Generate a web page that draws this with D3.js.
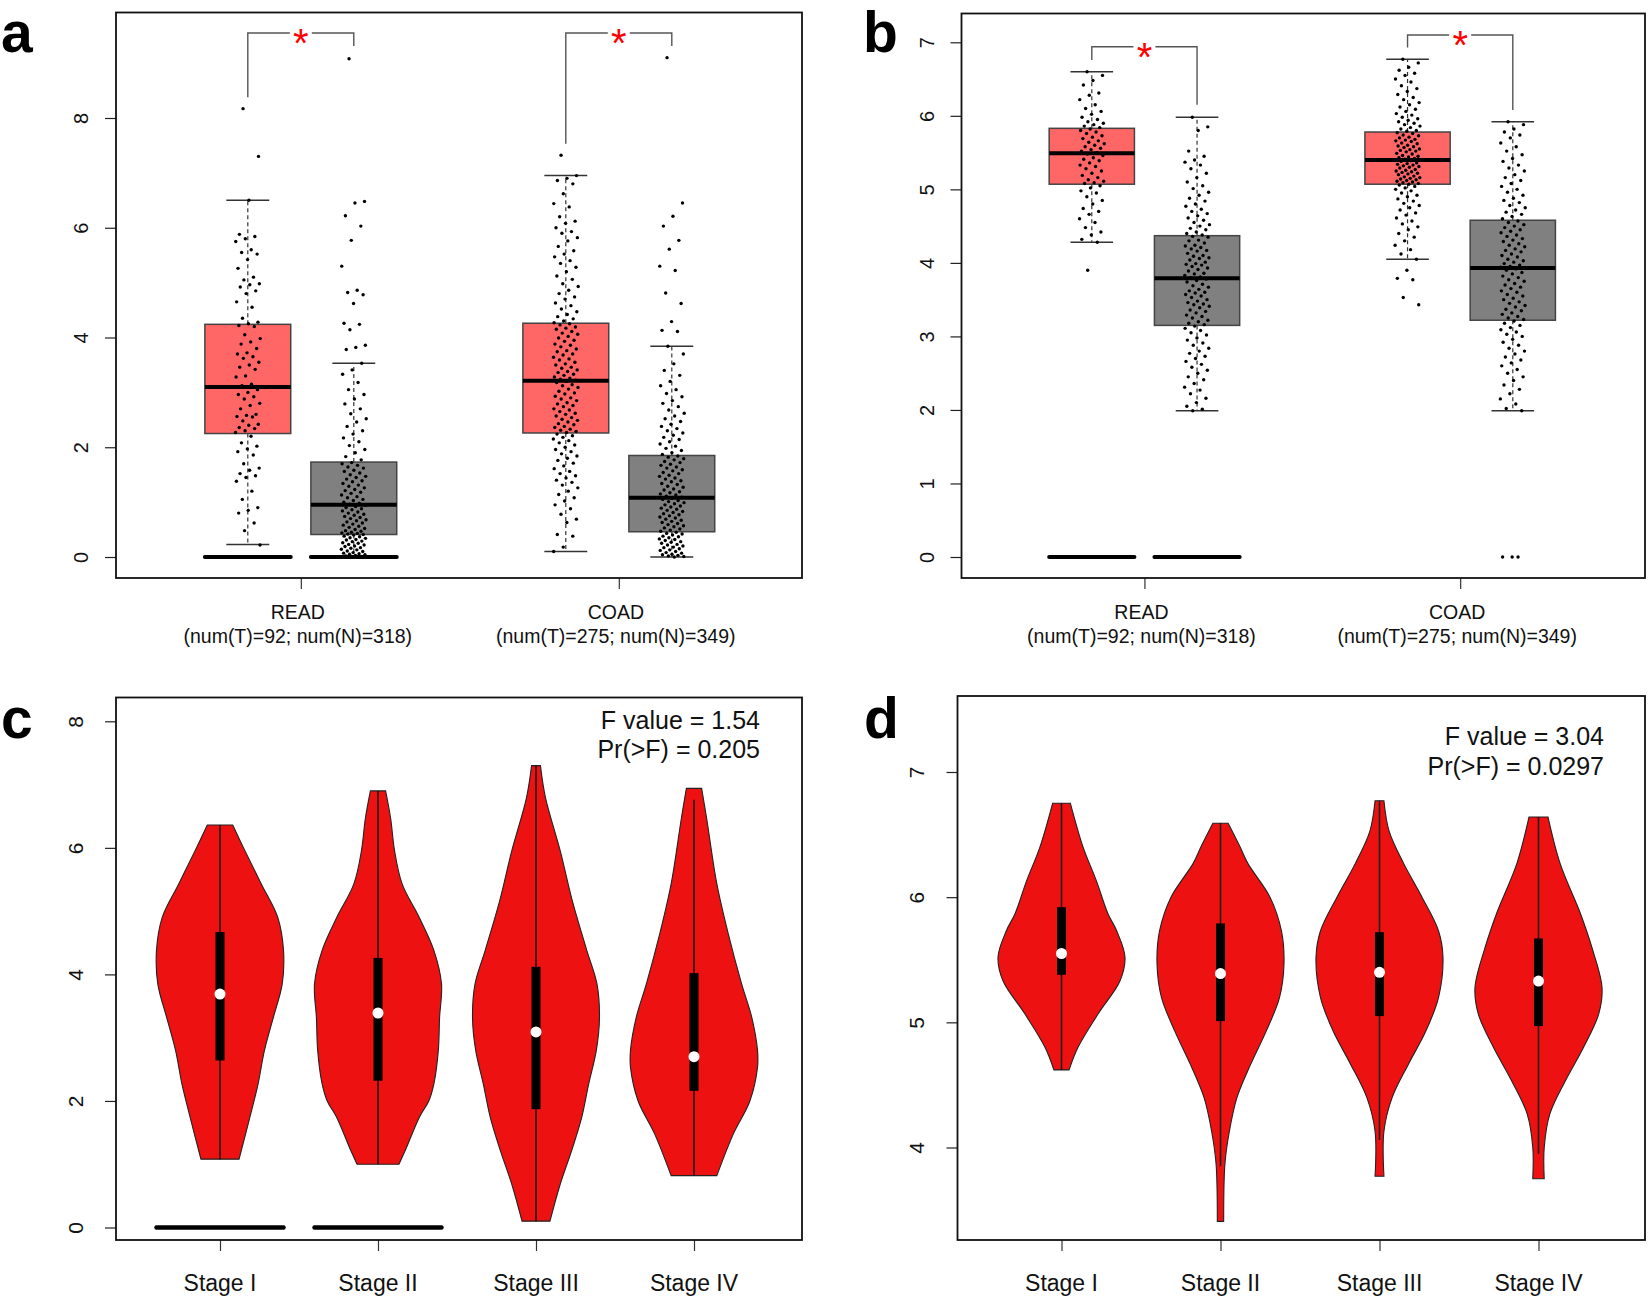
<!DOCTYPE html>
<html><head><meta charset="utf-8">
<script src="https://cdn.jsdelivr.net/npm/d3@7"></script>
<style>body{margin:0;background:#fff}svg{display:block}</style>
</head><body>
<svg id="fig" width="1651" height="1301"></svg>
<script>
// ================= DATA =================
const boxCategories = ["READ", "COAD"];
const boxCategoryCounts = ["(num(T)=92; num(N)=318)", "(num(T)=275; num(N)=349)"];
const stageCategories = ["Stage I", "Stage II", "Stage III", "Stage IV"];

// box stats: [lowerWhisker, Q1, median, Q3, upperWhisker]  (READ, COAD)
const aTumorStats  = [[0.23, 2.25, 3.10, 4.24, 6.50], [0.10, 2.26, 3.21, 4.26, 6.95]];
const aNormalStats = [[0.00, 0.41, 0.95, 1.73, 3.53], [0.00, 0.46, 1.08, 1.85, 3.84]];
const bTumorStats  = [[4.28, 5.07, 5.49, 5.83, 6.60], [4.05, 5.07, 5.40, 5.78, 6.77]];
const bNormalStats = [[1.99, 3.15, 3.79, 4.37, 5.98], [1.99, 3.22, 3.93, 4.58, 5.92]];
// zero-expression bars [tumor, normal] per category
const aZeroBars = [[true, true], [false, false]];
const bZeroBars = [[true, true], [false, false]];
// significance brackets: [tumor end, top, normal end]
const aBrackets = [[8.38, 9.55, 9.31], [7.53, 9.55, 9.31]];
const bBrackets = [[6.76, 6.94, 6.15], [6.93, 7.10, 6.08]];

const aReadTumorPts = [8.17,7.30,6.50,5.88,5.84,5.80,5.75,5.60,5.55,5.52,5.42,5.26,5.10,5.05,4.98,4.96,4.92,4.85,4.80,4.65,4.55,4.35,4.28,4.25,4.22,4.20,4.05,3.98,3.92,3.88,3.80,3.72,3.70,3.65,3.62,3.55,3.50,3.46,3.42,3.30,3.28,3.15,3.12,3.05,3.00,2.96,2.92,2.88,2.80,2.76,2.70,2.60,2.58,2.56,2.55,2.48,2.42,2.40,2.36,2.34,2.30,2.27,2.20,2.08,2.02,1.97,1.92,1.86,1.70,1.62,1.58,1.52,1.48,1.45,1.38,1.20,1.05,0.90,0.85,0.80,0.62,0.48,0.22];
const aReadNormalPts = [9.08,6.48,6.45,6.22,6.03,5.77,5.30,4.86,4.82,4.78,4.62,4.26,4.24,4.14,3.86,3.82,3.78,
3.53,3.41,3.33,3.18,3.05,2.96,2.88,2.79,2.70,2.61,2.52,2.46,2.38,2.30,2.24,2.17,2.10,2.03,1.96,1.90,1.83,1.77,
1.72,1.70,1.67,1.64,1.62,1.58,1.56,1.53,1.50,1.47,1.45,1.42,1.39,1.37,1.34,1.31,1.29,1.26,1.23,1.21,1.18,1.16,1.13,1.10,1.08,1.05,1.03,1.00,0.98,0.96,
0.94,0.92,0.90,0.88,0.86,0.84,0.82,0.80,0.78,0.76,0.74,0.72,0.70,0.68,0.66,0.64,0.62,0.60,0.58,0.56,0.54,0.52,0.50,0.48,0.47,0.45,0.44,0.43,0.42,0.41,
0.40,0.38,0.37,0.35,0.34,0.32,0.31,0.29,0.28,0.26,0.25,0.23,0.22,0.20,0.19,0.17,0.16,0.14,0.13,0.11,0.10,0.08,0.07,0.06,0.05,0.04,0.03,0.02,0.01,0.00];
const aCoadTumorPts = [7.32,
6.95,6.90,6.86,6.80,6.62,6.44,6.38,6.20,6.12,6.08,6.00,5.93,5.90,5.82,5.76,5.66,5.58,5.52,5.47,5.40,5.35,5.28,5.20,5.12,5.06,4.98,4.93,4.86,4.80,4.74,4.70,4.63,4.58,4.52,4.47,4.42,4.38,4.34,4.30,4.27,
4.25,4.23,4.19,4.17,4.15,4.11,4.08,4.06,4.02,3.99,3.95,3.93,3.88,3.86,3.83,3.79,3.76,3.74,3.70,3.68,3.64,3.61,3.59,3.55,3.52,3.50,3.46,3.44,3.41,3.38,3.36,3.33,3.31,3.28,3.26,3.24,3.22,
3.20,3.18,3.14,3.12,3.09,3.06,3.02,2.99,2.97,2.93,2.90,2.88,2.85,2.81,2.79,2.76,2.74,2.70,2.68,2.65,2.62,2.60,2.57,2.54,2.51,2.49,2.46,2.43,2.41,2.38,2.36,2.33,2.31,2.29,2.27,
2.24,2.21,2.18,2.15,2.12,2.08,2.04,2.00,1.96,1.92,1.88,1.84,1.80,1.76,1.71,1.66,1.61,1.56,1.52,1.48,1.44,1.40,1.36,1.31,1.26,1.20,1.14,1.08,1.02,0.95,0.88,0.78,0.69,0.63,0.41,0.38,0.18,0.10];
const aCoadNormalPts = [9.10,6.45,6.21,6.03,5.77,5.61,5.30,5.22,4.81,4.62,4.29,4.13,4.11,
3.84,3.70,3.52,3.40,3.31,3.20,3.12,3.05,2.98,2.92,2.85,2.80,2.74,2.68,2.62,2.57,2.52,2.47,2.42,2.38,2.34,2.30,2.26,2.22,2.18,2.14,2.10,2.06,2.02,1.98,1.94,1.90,1.87,
1.84,1.82,1.79,1.77,1.74,1.72,1.69,1.67,1.64,1.62,1.59,1.57,1.54,1.52,1.49,1.47,1.44,1.42,1.39,1.37,1.34,1.32,1.29,1.27,1.24,1.22,1.19,1.17,1.15,1.13,1.11,1.09,
1.07,1.05,1.03,1.01,0.99,0.97,0.95,0.93,0.91,0.89,0.87,0.85,0.83,0.81,0.79,0.77,0.75,0.73,0.71,0.69,0.67,0.65,0.63,0.61,0.59,0.57,0.55,0.53,0.51,0.49,0.47,
0.45,0.43,0.42,0.40,0.38,0.37,0.35,0.33,0.32,0.30,0.28,0.27,0.25,0.23,0.22,0.20,0.18,0.17,0.15,0.13,0.12,0.10,0.08,0.07,0.05,0.04,0.03,0.02,0.01,0.00];

const bReadTumorPts = [6.60,6.55,6.48,6.42,6.31,6.28,6.22,6.15,6.10,6.06,6.02,5.98,5.95,5.92,5.90,5.88,5.86,5.84,
5.82,5.80,5.78,5.76,5.73,5.71,5.69,5.66,5.64,5.62,5.60,5.58,5.56,5.54,5.52,5.50,
5.48,5.46,5.43,5.41,5.39,5.36,5.33,5.31,5.28,5.25,5.22,5.19,5.16,5.13,5.11,5.09,5.08,
5.05,5.02,4.98,4.95,4.90,4.85,4.80,4.74,4.70,4.66,4.60,4.55,4.48,4.42,4.38,4.32,4.28,3.90];
const bReadNormalPts = [5.98,5.85,5.80,5.52,5.45,5.40,5.37,5.33,5.28,5.22,5.16,5.10,5.05,5.01,4.96,4.92,4.88,4.84,4.80,4.77,4.73,4.70,4.67,4.64,4.61,4.58,4.55,4.52,4.50,4.47,4.45,4.42,4.40,4.38,
4.36,4.35,4.31,4.30,4.27,4.24,4.23,4.21,4.19,4.17,4.16,4.13,4.10,4.09,4.07,4.06,4.04,4.01,3.99,3.98,3.97,3.95,3.93,3.91,3.89,3.86,3.85,3.83,3.81,3.80,
3.78,3.76,3.74,3.71,3.69,3.67,3.64,3.62,3.60,3.59,3.57,3.55,3.53,3.50,3.48,3.46,3.44,3.43,3.41,3.39,3.36,3.34,3.32,3.29,3.27,3.25,3.22,3.20,3.18,3.16,
3.14,3.11,3.08,3.05,3.02,2.98,2.95,2.91,2.88,2.84,2.80,2.77,2.73,2.70,2.66,2.62,2.58,2.54,2.50,2.45,2.41,2.36,2.31,2.27,2.22,2.16,2.10,2.05,2.01,1.99];
const bCoadTumorPts = [6.77,6.72,6.66,6.62,6.58,6.55,6.50,6.46,6.41,6.37,6.33,6.29,6.25,6.22,6.18,6.15,6.12,6.09,6.06,6.03,6.01,5.98,5.96,5.94,5.92,5.90,5.88,5.86,5.84,5.82,5.80,5.79,
5.77,5.76,5.74,5.73,5.71,5.70,5.68,5.67,5.66,5.65,5.63,5.62,5.60,5.59,5.58,5.57,5.55,5.54,5.53,5.52,5.51,5.49,5.48,5.46,5.45,5.44,5.43,5.42,5.41,5.40,
5.39,5.38,5.36,5.35,5.34,5.33,5.32,5.31,5.30,5.29,5.27,5.26,5.25,5.24,5.23,5.22,5.21,5.20,5.18,5.17,5.16,5.15,5.14,5.13,5.12,5.11,5.10,5.09,5.08,5.07,
5.06,5.04,5.02,5.00,4.98,4.95,4.92,4.90,4.87,4.84,4.81,4.78,4.75,4.72,4.68,4.65,4.61,4.57,4.53,4.49,4.45,4.40,4.35,4.30,4.24,4.18,4.12,4.05,
3.90,3.79,3.77,3.53,3.43];
const bCoadNormalPts = [5.92,5.88,5.82,5.78,5.74,5.70,5.63,5.58,5.52,5.47,5.42,5.38,5.33,5.29,5.25,5.20,5.16,5.12,5.08,5.04,5.00,4.96,4.92,4.88,4.85,4.82,4.78,4.75,4.72,4.69,4.66,4.63,4.60,
4.57,4.55,4.52,4.50,4.48,4.45,4.43,4.41,4.38,4.36,4.33,4.31,4.29,4.26,4.24,4.22,4.19,4.17,4.15,4.12,4.10,4.08,4.05,4.03,4.01,3.99,3.97,3.95,3.94,
3.92,3.90,3.87,3.85,3.82,3.80,3.77,3.75,3.72,3.70,3.67,3.65,3.62,3.60,3.57,3.55,3.52,3.50,3.47,3.45,3.42,3.40,3.37,3.35,3.32,3.30,3.27,3.25,3.23,
3.21,3.18,3.15,3.12,3.09,3.06,3.03,3.00,2.96,2.92,2.88,2.84,2.80,2.76,2.72,2.68,2.64,2.60,2.55,2.50,2.45,2.40,2.34,2.28,2.22,2.15,2.08,2.02,1.99,
0.00,0.00,0.00];

// violin profiles: [value, relative density]; stats: [whiskerLow, Q1, median, Q3, whiskerHigh]
const cStage1Profile = [[6.36,0.20],[5.96,0.39],[5.43,0.65],[4.90,0.91],[4.38,1.00],[3.85,0.98],[3.32,0.84],[2.80,0.70],[2.27,0.60],[1.74,0.47],[1.08,0.30]];
const cStage2Profile = [[6.90,0.12],[6.46,0.20],[5.96,0.26],[5.43,0.38],[4.90,0.65],[4.38,0.88],[3.85,1.00],[3.32,0.97],[2.80,0.95],[2.27,0.88],[2.00,0.80],[1.74,0.65],[1.22,0.43],[1.00,0.33]];
const cStage3Profile = [[7.30,0.07],[6.79,0.15],[5.96,0.38],[5.17,0.57],[4.38,0.80],[3.85,0.96],[3.32,1.00],[2.80,0.95],[2.27,0.83],[1.74,0.72],[1.21,0.56],[0.68,0.38],[0.10,0.22]];
const cStage4Profile = [[6.94,0.12],[6.46,0.20],[5.43,0.36],[4.64,0.54],[3.85,0.75],[3.32,0.91],[2.80,1.00],[2.53,1.00],[2.00,0.88],[1.48,0.62],[0.82,0.36]];
const cStageStats = [[1.08,2.64,3.69,4.67,6.36],[1.00,2.32,3.39,4.26,6.90],[0.10,1.87,3.09,4.12,7.30],[0.82,2.16,2.70,4.02,6.76]];
const cZeroBars = [true, true, false, false];
const cAnova = ["F value = 1.54", "Pr(>F) = 0.205"];

const dStage1Profile = [[6.75,0.14],[6.40,0.34],[6.13,0.55],[5.87,0.73],[5.73,0.87],[5.52,1.00],[5.33,0.92],[5.07,0.58],[4.80,0.26],[4.62,0.12]];
const dStage2Profile = [[6.59,0.12],[6.41,0.30],[6.27,0.43],[6.00,0.78],[5.73,0.96],[5.47,1.00],[5.20,0.93],[4.93,0.72],[4.67,0.48],[4.40,0.26],[4.13,0.14],[3.87,0.07],[3.41,0.05]];
const dStage3Profile = [[6.77,0.07],[6.53,0.15],[6.27,0.38],[6.00,0.67],[5.73,0.93],[5.52,1.00],[5.20,0.93],[4.93,0.73],[4.67,0.46],[4.40,0.20],[4.13,0.07],[3.77,0.07]];
const dStage4Profile = [[6.64,0.15],[6.27,0.34],[5.87,0.66],[5.60,0.84],[5.28,1.00],[5.07,0.95],[4.80,0.71],[4.53,0.42],[4.27,0.18],[4.00,0.09],[3.75,0.09]];
const dStageStats = [[4.62,5.38,5.55,5.92,6.75],[3.85,5.01,5.39,5.79,6.59],[4.06,5.05,5.40,5.72,6.77],[3.95,4.97,5.33,5.67,6.64]];
const dZeroBars = [false, false, false, false];
const dAnova = ["F value = 3.04", "Pr(>F) = 0.0297"];

// ================= DRAWING =================
const FONT = '"Liberation Sans", Arial, Helvetica, sans-serif';
const TUMOR = "#ff6666", NORMAL = "#808080", VIOLIN = "#ee1111";
const svg = d3.select("#fig");

function drawFrame(g, f) {
  g.append("rect").attr("x", f.x0).attr("y", f.y0).attr("width", f.x1 - f.x0).attr("height", f.y1 - f.y0)
    .attr("fill", "none").attr("stroke", "#111").attr("stroke-width", 1.8);
}
function drawYAxis(g, f, y, ticks, offset, fs) {
  const ax = g.append("g").attr("transform", `translate(${f.x0},0)`)
    .call(d3.axisLeft(y).tickValues(ticks).tickSize(11).tickFormat(d3.format("d")));
  ax.select(".domain").remove();
  ax.selectAll(".tick line").attr("stroke", "#222").attr("stroke-width", 1.2);
  ax.selectAll(".tick text").attr("x", 0).attr("dy", "0.36em")
    .attr("transform", `translate(${-offset},0) rotate(-90)`)
    .attr("text-anchor", "middle").attr("font-size", fs).attr("font-family", FONT).attr("fill", "#111");
}
function drawXAxis(g, f, x, vals) {
  const ax = g.append("g").attr("transform", `translate(0,${f.y1})`)
    .call(d3.axisBottom(x).tickValues(vals).tickSize(11).tickFormat(""));
  ax.select(".domain").remove();
  ax.selectAll(".tick line").attr("stroke", "#333").attr("stroke-width", 1.2);
}
function panelLetter(t, x, y) {
  svg.append("text").attr("x", x).attr("y", y).text(t).attr("font-family", FONT)
    .attr("font-weight", "bold").attr("font-size", 57).attr("fill", "#000");
}
const jitter = i => ((i * 0.6180339887 + 0.31) % 1) - 0.5;

function boxPanel(cfg) {
  const g = svg.append("g");
  const f = cfg.frame;
  const y = d3.scaleLinear().domain(cfg.yDomain).range(cfg.yRange);
  const x = d3.scaleLinear().domain([1, 5]).range(cfg.xRange);
  const bw = x(1 + 0.81) - x(1);
  drawYAxis(g, f, y, cfg.yTicks, 35, 20);
  drawXAxis(g, f, x, [1.5, 4.5]);
  boxCategories.forEach((c, i) => {
    const cx = x(1.5 + 3 * i) - 3;
    g.append("text").attr("x", cx).attr("y", 619).attr("text-anchor", "middle").attr("font-size", 19.5)
      .attr("font-family", FONT).attr("fill", "#111").text(c);
    g.append("text").attr("x", cx).attr("y", 643).attr("text-anchor", "middle").attr("font-size", 19.5)
      .attr("font-family", FONT).attr("fill", "#111").text(boxCategoryCounts[i]);
  });
  cfg.groups.forEach(gr => {
    const cx = x(gr.pos);
    const [lo, q1, md, q3, hi] = gr.stats;
    const wl = (a, b) => g.append("line").attr("x1", cx).attr("x2", cx).attr("y1", y(a)).attr("y2", y(b))
      .attr("stroke", "#333").attr("stroke-width", 1.2).attr("stroke-dasharray", "4,3");
    wl(q3, hi); wl(q1, lo);
    [lo, hi].forEach(v => g.append("line").attr("x1", cx - bw / 4).attr("x2", cx + bw / 4)
      .attr("y1", y(v)).attr("y2", y(v)).attr("stroke", "#333").attr("stroke-width", 1.5));
    g.append("rect").attr("x", cx - bw / 2).attr("width", bw).attr("y", y(q3)).attr("height", y(q1) - y(q3))
      .attr("fill", gr.fill).attr("stroke", "#444").attr("stroke-width", 1.5);
    g.append("line").attr("x1", cx - bw / 2).attr("x2", cx + bw / 2).attr("y1", y(md)).attr("y2", y(md))
      .attr("stroke", "#000").attr("stroke-width", 4);
  });
  cfg.groups.forEach(gr => {
    const cx = x(gr.pos);
    g.append("g").selectAll("circle").data(gr.pts).join("circle")
      .attr("cx", (d, i) => cx + jitter(i) * 25).attr("cy", d => y(d)).attr("r", 1.7).attr("fill", "#000");
    if (gr.zero) g.append("line").attr("x1", cx - bw / 2).attr("x2", cx + bw / 2).attr("y1", y(0)).attr("y2", y(0))
      .attr("stroke", "#000").attr("stroke-width", 4).attr("stroke-linecap", "round");
  });
  cfg.brackets.forEach((br, i) => {
    const xl = x(1 + 3 * i), xr = x(2 + 3 * i), xm = x(1.5 + 3 * i), yt = y(br[1]);
    const st = s => s.attr("stroke", "#555").attr("stroke-width", 1.4).attr("fill", "none");
    st(g.append("path").attr("d", `M${xl},${y(br[0])}V${yt}H${xm - 11}`));
    st(g.append("path").attr("d", `M${xm + 11},${yt}H${xr}V${y(br[2])}`));
    g.append("text").attr("x", xm).attr("y", yt + 24).attr("text-anchor", "middle").attr("font-size", 40)
      .attr("font-family", FONT).attr("fill", "#ff0000").text("*");
  });
  drawFrame(g, f);
}

function violinPanel(cfg) {
  const g = svg.append("g");
  const f = cfg.frame;
  const y = d3.scaleLinear().domain(cfg.yDomain).range(cfg.yRange);
  const x = d3.scaleLinear().domain([1, 4]).range(cfg.xRange);
  const hw = 63.5;
  drawYAxis(g, f, y, cfg.yTicks, 41, 21);
  drawXAxis(g, f, x, [1, 2, 3, 4]);
  stageCategories.forEach((s, i) => g.append("text").attr("x", x(i + 1)).attr("y", 1291).attr("text-anchor", "middle")
    .attr("font-size", 23).attr("font-family", FONT).attr("fill", "#111").text(s));
  cfg.profiles.forEach((p, i) => {
    const cx = x(i + 1);
    const area = d3.area().y(d => y(d[0])).x0(d => cx - hw * d[1]).x1(d => cx + hw * d[1])
      .curve(d3.curveCatmullRom.alpha(0.5));
    g.append("path").attr("d", area(p)).attr("fill", VIOLIN).attr("stroke", "#222").attr("stroke-width", 1.1);
    const [lo, q1, md, q3, hi] = cfg.stats[i];
    g.append("line").attr("x1", cx).attr("x2", cx).attr("y1", y(lo)).attr("y2", y(hi)).attr("stroke", "#111").attr("stroke-width", 1.5);
    g.append("rect").attr("x", cx - 4.5).attr("width", 9).attr("y", y(q3)).attr("height", y(q1) - y(q3)).attr("fill", "#000");
    g.append("circle").attr("cx", cx).attr("cy", y(md)).attr("r", 5.5).attr("fill", "#fff");
    if (cfg.zero[i]) g.append("line").attr("x1", cx - hw).attr("x2", cx + hw).attr("y1", y(0)).attr("y2", y(0))
      .attr("stroke", "#000").attr("stroke-width", 4.5).attr("stroke-linecap", "round");
  });
  cfg.anova.forEach((t, i) => g.append("text").attr("x", cfg.anovaX).attr("y", cfg.anovaY[i]).attr("text-anchor", "end")
    .attr("font-size", 25).attr("font-family", FONT).attr("fill", "#111").text(t));
  drawFrame(g, f);
}

boxPanel({
  frame: {x0: 116, x1: 802, y0: 12.5, y1: 578}, yDomain: [0, 8], yRange: [557, 118], yTicks: [0, 2, 4, 6, 8],
  xRange: [247.8, 671.8], brackets: aBrackets,
  groups: [
    {pos: 1, stats: aTumorStats[0], pts: aReadTumorPts, fill: TUMOR, zero: aZeroBars[0][0]},
    {pos: 2, stats: aNormalStats[0], pts: aReadNormalPts, fill: NORMAL, zero: aZeroBars[0][1]},
    {pos: 4, stats: aTumorStats[1], pts: aCoadTumorPts, fill: TUMOR, zero: aZeroBars[1][0]},
    {pos: 5, stats: aNormalStats[1], pts: aCoadNormalPts, fill: NORMAL, zero: aZeroBars[1][1]}]
});
boxPanel({
  frame: {x0: 961.5, x1: 1645, y0: 13.5, y1: 578}, yDomain: [0, 7], yRange: [557, 42.3], yTicks: [0, 1, 2, 3, 4, 5, 6, 7],
  xRange: [1091.8, 1512.8], brackets: bBrackets,
  groups: [
    {pos: 1, stats: bTumorStats[0], pts: bReadTumorPts, fill: TUMOR, zero: bZeroBars[0][0]},
    {pos: 2, stats: bNormalStats[0], pts: bReadNormalPts, fill: NORMAL, zero: bZeroBars[0][1]},
    {pos: 4, stats: bTumorStats[1], pts: bCoadTumorPts, fill: TUMOR, zero: bZeroBars[1][0]},
    {pos: 5, stats: bNormalStats[1], pts: bCoadNormalPts, fill: NORMAL, zero: bZeroBars[1][1]}]
});
violinPanel({
  frame: {x0: 116, x1: 802, y0: 697.5, y1: 1240}, yDomain: [0, 8], yRange: [1227.5, 721.3], yTicks: [0, 2, 4, 6, 8],
  xRange: [220, 694], profiles: [cStage1Profile, cStage2Profile, cStage3Profile, cStage4Profile],
  stats: cStageStats, zero: cZeroBars, anova: cAnova, anovaX: 760, anovaY: [729, 758]
});
violinPanel({
  frame: {x0: 957.5, x1: 1645, y0: 696, y1: 1240}, yDomain: [4, 7], yRange: [1147.5, 772], yTicks: [4, 5, 6, 7],
  xRange: [1061.5, 1538.5], profiles: [dStage1Profile, dStage2Profile, dStage3Profile, dStage4Profile],
  stats: dStageStats, zero: dZeroBars, anova: dAnova, anovaX: 1604, anovaY: [745, 775]
});
panelLetter("a", 1, 52);
panelLetter("b", 863, 52);
panelLetter("c", 1, 738);
panelLetter("d", 864, 738);
</script>
</body></html>
